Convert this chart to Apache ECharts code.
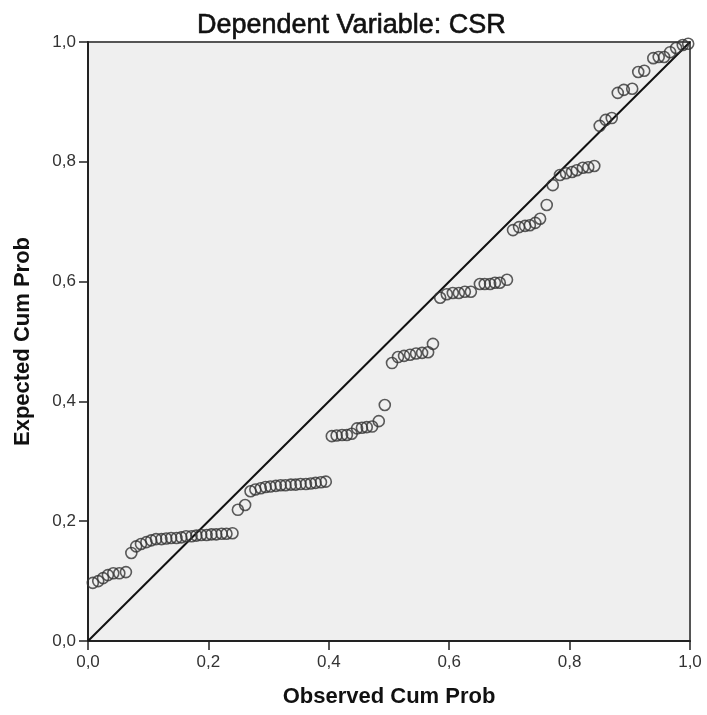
<!DOCTYPE html>
<html>
<head>
<meta charset="utf-8">
<script src="https://cdn.jsdelivr.net/npm/echarts@6/dist/echarts.min.js"></script>
<style>
  html, body { margin: 0; padding: 0; background: #fff; }
  #main { width: 707px; height: 715px; }
</style>
</head>
<body>
<div id="main"></div>
<script>
// observed cumulative probability (x) and expected cumulative probability (y)
var observed = [
  0.008, 0.017, 0.025, 0.033, 0.042, 0.052, 0.063,
  0.072, 0.080, 0.088, 0.097, 0.105, 0.113, 0.122, 0.130, 0.138, 0.147, 0.155,
  0.163, 0.172, 0.180, 0.188, 0.197, 0.205, 0.213, 0.222, 0.230, 0.240,
  0.249, 0.261,
  0.270, 0.278, 0.287, 0.295, 0.303, 0.312, 0.320, 0.328, 0.337, 0.345, 0.353,
  0.362, 0.370, 0.378, 0.387, 0.395,
  0.405, 0.413, 0.422, 0.430, 0.438, 0.447, 0.455, 0.463, 0.472, 0.483, 0.493,
  0.505, 0.515, 0.525, 0.535, 0.545, 0.555, 0.565, 0.573,
  0.585, 0.596, 0.606, 0.616, 0.626, 0.636, 0.651, 0.659, 0.668, 0.676, 0.684, 0.696,
  0.706, 0.716, 0.726, 0.734, 0.743, 0.751, 0.762, 0.772, 0.784, 0.794, 0.804,
  0.812, 0.822, 0.831, 0.841,
  0.850, 0.860, 0.870, 0.880, 0.890, 0.904, 0.914, 0.924, 0.939, 0.948, 0.957,
  0.967, 0.977, 0.988, 0.997
];
var expected = [
  0.097, 0.100, 0.105, 0.110, 0.113, 0.113, 0.115,
  0.147, 0.158, 0.162, 0.165, 0.168, 0.170, 0.170, 0.171, 0.172, 0.172, 0.173,
  0.175, 0.175, 0.176, 0.177, 0.177, 0.178, 0.178, 0.179, 0.179, 0.180,
  0.219, 0.227,
  0.250, 0.253, 0.255, 0.257, 0.258, 0.259, 0.260, 0.260, 0.261, 0.261, 0.262,
  0.262, 0.263, 0.264, 0.265, 0.266,
  0.342, 0.343, 0.344, 0.344, 0.346, 0.355, 0.356, 0.357, 0.358, 0.367, 0.394,
  0.464, 0.474, 0.476, 0.478, 0.480, 0.481, 0.482, 0.496,
  0.573, 0.579, 0.581, 0.581, 0.583, 0.583, 0.596, 0.596, 0.596, 0.598, 0.598, 0.603,
  0.686, 0.691, 0.693, 0.694, 0.698, 0.705, 0.728, 0.761, 0.778, 0.781, 0.783,
  0.786, 0.790, 0.791, 0.793,
  0.860, 0.870, 0.873, 0.915, 0.920, 0.922, 0.950, 0.952, 0.973, 0.975, 0.975,
  0.983, 0.990, 0.995, 0.997
];
var refLine = [0, 1];
var ticks = [0, 0.2, 0.4, 0.6, 0.8, 1.0];

var myChart = echarts.init(document.getElementById('main'));

var points = [];
for (var i = 0; i < observed.length; i++) {
  points.push([observed[i], expected[i]]);
}

function fmt(v) {
  return v.toFixed(1).replace('.', ',');
}

var axisCommon = {
  type: 'value',
  min: ticks[0],
  max: ticks[ticks.length - 1],
  interval: 0.2,
  nameLocation: 'middle',
  nameTextStyle: { fontFamily: 'Liberation Sans', fontWeight: 'bold', fontSize: 22, color: '#111' },
  axisLine: { show: true, lineStyle: { color: '#222', width: 2 } },
  axisTick: { show: true, length: 9, lineStyle: { color: '#222', width: 1.5 } },
  axisLabel: { formatter: fmt, fontFamily: 'Liberation Sans', fontSize: 17, color: '#333' },
  splitLine: { show: false }
};

var option = {
  animation: false,
  backgroundColor: '#fff',
  title: {
    text: 'Dependent Variable: CSR',
    left: 192,
    top: 7,
    textStyle: {
      fontFamily: 'Liberation Sans', fontWeight: 'normal', fontSize: 27, color: '#111',
      textBorderColor: '#111', textBorderWidth: 0.6
    }
  },
  grid: {
    left: 88, right: 17, top: 42, bottom: 74,
    show: true,
    backgroundColor: '#efefef',
    borderColor: '#555',
    borderWidth: 2
  },
  xAxis: Object.assign({}, axisCommon, {
    name: 'Observed Cum Prob',
    nameGap: 45,
    axisLabel: Object.assign({}, axisCommon.axisLabel, { margin: 13 })
  }),
  yAxis: Object.assign({}, axisCommon, {
    name: 'Expected Cum Prob',
    nameGap: 54,
    axisLabel: Object.assign({}, axisCommon.axisLabel, { margin: 12 })
  }),
  series: [
    {
      type: 'line',
      data: [[refLine[0], refLine[0]], [refLine[1], refLine[1]]],
      showSymbol: false,
      lineStyle: { color: '#111', width: 2 },
      z: 2
    },
    {
      type: 'scatter',
      data: points,
      symbol: 'circle',
      symbolSize: 11,
      itemStyle: { color: 'rgba(0,0,0,0)', borderColor: '#333', borderWidth: 1.6 },
      z: 3
    }
  ]
};

myChart.setOption(option);
</script>
</body>
</html>
